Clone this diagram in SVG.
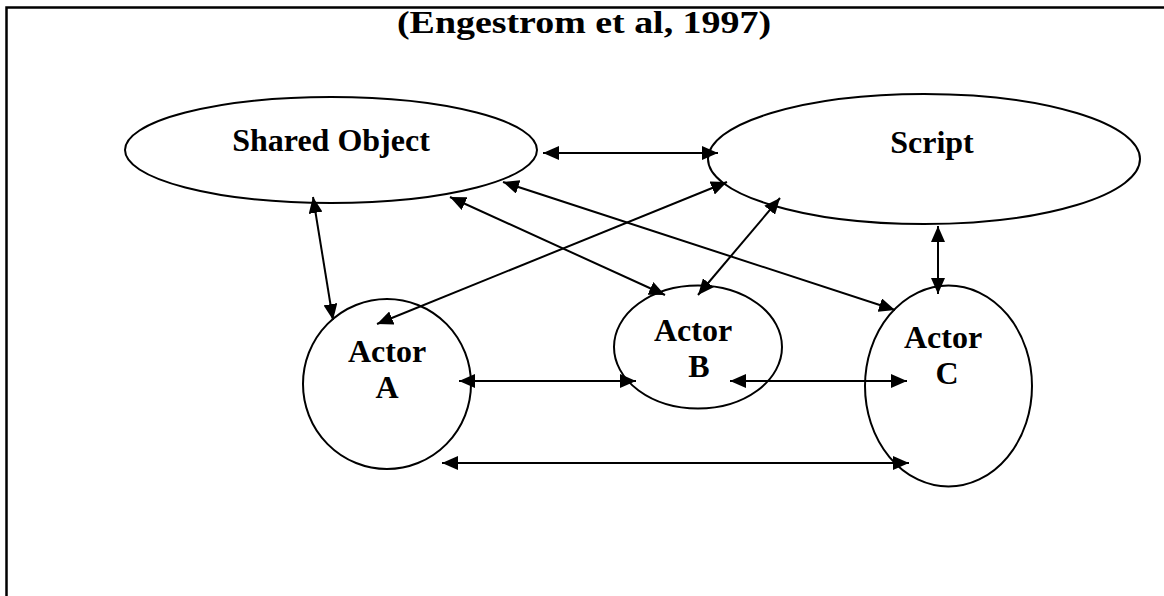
<svg xmlns="http://www.w3.org/2000/svg" width="1164" height="596" viewBox="0 0 1164 596">
  <style>
    .shape { fill: #ffffff; stroke: #000000; stroke-width: 2; }
    .label { font-family: "Liberation Serif", "Times New Roman", serif; font-weight: bold; font-size: 32px; fill: #000000; text-anchor: middle; }
    .frame { fill: none; stroke: #000000; stroke-width: 2.5; }
    .link { fill: none; stroke: #000000; stroke-width: 2; marker-start: url(#head); marker-end: url(#head); }
  </style>
  <defs>
    <marker id="head" markerUnits="userSpaceOnUse" markerWidth="16" markerHeight="14" refX="16" refY="7" orient="auto-start-reverse" viewBox="0 0 16 14">
      <path d="M0,0 L16,7 L0,14 z" fill="#000000"/>
    </marker>
  </defs>

  <rect width="1164" height="596" fill="#ffffff"/>

  <!-- open frame: top and left rules -->
  <path class="frame" d="M6.5,596 L6.5,7.5 L1164,7.5"/>

  <text class="label" x="584" y="33" textLength="374" lengthAdjust="spacingAndGlyphs">(Engestrom et al, 1997)</text>

  <g id="shared-object">
    <ellipse class="shape" cx="331" cy="150" rx="206" ry="53"/>
    <text class="label" x="331" y="151">Shared Object</text>
  </g>

  <g id="script">
    <ellipse class="shape" cx="924" cy="159" rx="216" ry="65"/>
    <text class="label" x="932" y="153">Script</text>
  </g>

  <g id="actor-a">
    <ellipse class="shape" cx="387" cy="384" rx="84" ry="85"/>
    <text class="label" x="387" y="362">Actor</text>
    <text class="label" x="387" y="398">A</text>
  </g>

  <g id="actor-b">
    <ellipse class="shape" cx="698" cy="347" rx="84" ry="61.5"/>
    <text class="label" x="693" y="341">Actor</text>
    <text class="label" x="699" y="377">B</text>
  </g>

  <g id="actor-c">
    <ellipse class="shape" cx="948.5" cy="386" rx="83.5" ry="100.5"/>
    <text class="label" x="943" y="348">Actor</text>
    <text class="label" x="947" y="384">C</text>
  </g>

  <g id="connectors">
    <line class="link" x1="543" y1="153" x2="718" y2="153"/>
    <line class="link" x1="313" y1="197" x2="333" y2="320"/>
    <line class="link" x1="377" y1="324" x2="727" y2="182"/>
    <line class="link" x1="450" y1="197" x2="665" y2="295"/>
    <line class="link" x1="503" y1="182" x2="895" y2="310"/>
    <line class="link" x1="698" y1="295" x2="780" y2="198"/>
    <line class="link" x1="938" y1="226" x2="938" y2="294"/>
    <line class="link" x1="459" y1="381" x2="636" y2="381"/>
    <line class="link" x1="730" y1="381" x2="907" y2="381"/>
    <line class="link" x1="442" y1="463" x2="909" y2="463"/>
  </g>
</svg>
